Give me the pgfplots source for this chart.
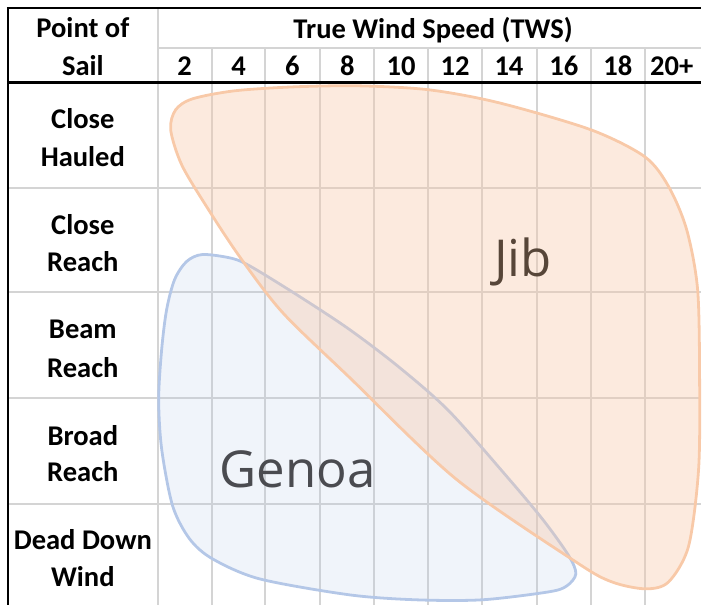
\documentclass[border=0pt]{standalone}
\usepackage{pgfplots}
\pgfplotsset{compat=1.18}
\usepackage{fontspec}
\setmainfont{Carlito}
\newfontfamily\blobfont{Open Sans}
\definecolor{gridc}{HTML}{D4D4D4}
\definecolor{jibc}{HTML}{F8C9A8}
\definecolor{genc}{HTML}{B4C7E7}
\definecolor{jibt}{HTML}{574639}
\definecolor{gent}{HTML}{4A4B50}
\pgfplotstableread{
x y
171 130
176 110
193 99
235 91
295 87
360 86
430 90
500 103
592 130
646 157
670 187
688 230
699 290
701 380
700 470
690 547
670 583
647 590
613 583
577 563
457 480
350 378
283 313
240 257
207 207
182 165
}\jib
\pgfplotstableread{
x y
203 255
233 259
253 268
300 297
350 330
400 368
450 412
510 480
545 522
570 557
577 575
568 587
550 593
483 601
417 601
350 596
260 580
213 560
190 540
173 507
162 450
159 400
162 350
167 310
175 280
187 262
}\genoa
\begin{document}
\begin{tikzpicture}
\begin{axis}[
  width=351pt, height=303pt, scale only axis,
  xmin=0, xmax=702, ymin=0, ymax=606, y dir=reverse,
  hide axis, clip=false]
\path (axis cs:0,0) rectangle (axis cs:702,606);
% grid lines
\foreach \xx in {212,266,321,375,429,483,538,592,646} {
  \edef\tmp{\noexpand\draw[gridc, line width=1pt] (axis cs:\xx,48) -- (axis cs:\xx,606);}\tmp
}
\draw[gridc, line width=1pt] (axis cs:158,8) -- (axis cs:158,606);
\draw[gridc, line width=1pt] (axis cs:158,48) -- (axis cs:702,48);
\foreach \yy in {188,293,399,505} {
  \edef\tmp{\noexpand\draw[gridc, line width=1pt] (axis cs:8,\yy) -- (axis cs:702,\yy);}\tmp
}
\draw[black, line width=1.4pt] (axis cs:7,8) -- (axis cs:702,8);
\draw[black, line width=1.4pt] (axis cs:7,83) -- (axis cs:702,83);
\draw[black, line width=1.4pt] (axis cs:8,8) -- (axis cs:8,606);
% blobs
\addplot[genc, line width=1.4pt, fill=genc, fill opacity=0.2, smooth cycle, tension=0.5] table {\genoa};
\addplot[jibc, line width=1.4pt, fill=jibc, fill opacity=0.38, smooth cycle, tension=0.5] table {\jib};
% labels
\node[font=\blobfont\fontsize{25.5}{29}\selectfont, text=jibt] at (axis cs:524,262) {Jib};
\node[font=\blobfont\fontsize{25.5}{29}\selectfont, text=gent] at (axis cs:298,470) {Genoa};
\tikzset{hdr/.style={font=\fontsize{14.3}{17}\selectfont\bfseries, text=black, inner sep=0pt}}
\node[hdr] at (axis cs:83,28) {Point of};
\node[hdr] at (axis cs:83,66) {Sail};
\node[hdr] at (axis cs:434,30) {True Wind Speed (TWS)};
\foreach \cx/\lab in {185/2,239/4,293/6,348/8,402/10,456/12,510/14,565/16,619/18,673/20+} {
  \edef\tmp{\noexpand\node[hdr] at (axis cs:\cx,66) {\lab};}\tmp
}
\node[hdr] at (axis cs:83,119) {Close};
\node[hdr] at (axis cs:83,157) {Hauled};
\node[hdr] at (axis cs:83,225) {Close};
\node[hdr] at (axis cs:83,262) {Reach};
\node[hdr] at (axis cs:83,330) {Beam};
\node[hdr] at (axis cs:83,368) {Reach};
\node[hdr] at (axis cs:83,436) {Broad};
\node[hdr] at (axis cs:83,473) {Reach};
\node[hdr] at (axis cs:83,541) {Dead Down};
\node[hdr] at (axis cs:83,578) {Wind};
\end{axis}
\end{tikzpicture}
\end{document}
